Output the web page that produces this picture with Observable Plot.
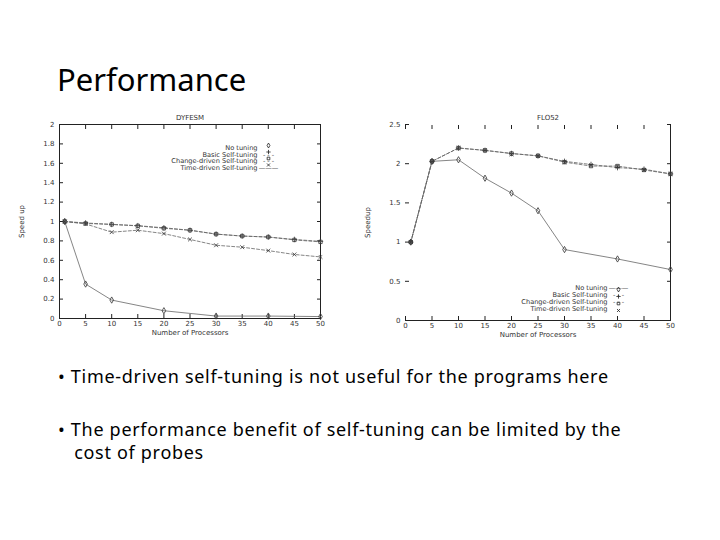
<!DOCTYPE html>
<html>
<head>
<meta charset="utf-8">
<script src="https://cdn.jsdelivr.net/npm/d3@7"></script>
<script src="https://cdn.jsdelivr.net/npm/@observablehq/plot@0.6"></script>
<style>
  html, body { margin: 0; padding: 0; background: #fff; }
  #page { position: relative; width: 720px; height: 540px; overflow: hidden; background: #fff; font-family: "Noto Sans", sans-serif; }
  #title { position: absolute; left: 57px; top: 59px; font-size: 31px; color: #000; line-height: 40px; }
  .chart { position: absolute; top: 105px; }
  .bullet { position: absolute; left: 58px; font-size: 18px; letter-spacing: 0.7px; line-height: 18px; height: 18px; color: #000; white-space: pre; }
</style>
</head>
<body>
<div id="page">
  <div id="title">Performance</div>
  <div id="left" class="chart" style="left:0px"></div>
  <div id="right" class="chart" style="left:350px"></div>
  <div class="bullet" style="top:367px">• Time-driven self-tuning is not useful for the programs here</div>
  <div class="bullet" style="top:420px">• The performance benefit of self-tuning can be limited by the</div>
  <div class="bullet" style="top:443px">   cost of probes</div>
</div>
<script>
// ---- data ----
const seriesNames = ["No tuning", "Basic Self-tuning", "Change-driven Self-tuning", "Time-driven Self-tuning"];
const procs = [1, 5, 10, 15, 20, 25, 30, 35, 40, 45, 50];

// DYFESM
const dyfesmNoProcs = [1, 5, 10, 20, 30, 40, 50];
const dyfesmNo     = [1.0, 0.355, 0.19, 0.08, 0.025, 0.025, 0.02];
const dyfesmBasic  = [1.0, 0.985, 0.97, 0.957, 0.935, 0.91, 0.87, 0.85, 0.84, 0.815, 0.795];
const dyfesmChange = [1.0, 0.98, 0.97, 0.955, 0.93, 0.91, 0.87, 0.85, 0.84, 0.81, 0.79];
const dyfesmTime   = [1.0, 0.975, 0.89, 0.91, 0.875, 0.815, 0.755, 0.735, 0.70, 0.66, 0.635];

// FLO52
const flo52NoProcs = [1, 5, 10, 15, 20, 25, 30, 40, 50];
const flo52No      = [1.0, 2.03, 2.05, 1.815, 1.625, 1.40, 0.905, 0.785, 0.65];
const flo52Basic   = [1.0, 2.03, 2.2, 2.17, 2.13, 2.1, 2.03, 1.99, 1.95, 1.93, 1.87];
const flo52Change  = [1.0, 2.03, 2.2, 2.17, 2.13, 2.1, 2.02, 1.97, 1.97, 1.92, 1.87];
const flo52Time    = [1.0, 2.03, 2.2, 2.17, 2.12, 2.1, 2.02, 1.98, 1.96, 1.92, 1.87];

const xTicks = [0, 5, 10, 15, 20, 25, 30, 35, 40, 45, 50];
const dyfesmYTicks = [0, 0.2, 0.4, 0.6, 0.8, 1, 1.2, 1.4, 1.6, 1.8, 2];
const flo52YTicks = [0, 0.5, 1, 1.5, 2, 2.5];

// ---- styling ----
const symbols = ["diamond", "plus", "square", "times"];
const dashes = [null, "3,2", "3,2", "3,2"];
const lineColor = "#666";
const FONT = "DejaVu Sans, sans-serif";
const fmt = d => `${d}`;

function rows(xs, ys) { return xs.map((x, i) => ({x, y: ys[i]})); }

function seriesMarks(data, i, withLine) {
  const marks = [];
  if (withLine) marks.push(Plot.line(data, {x: "x", y: "y", stroke: lineColor, strokeWidth: 0.8, strokeDasharray: dashes[i]}));
  marks.push(Plot.dot(data, {x: "x", y: "y", symbol: () => symbols[i], r: 1.9, stroke: "#333", strokeWidth: 0.8, fill: "none"}));
  return marks;
}

function legendMarks(anchor, rowsDy, lineStyles) {
  const m = [];
  seriesNames.forEach((name, i) => {
    m.push(Plot.text([name], {frameAnchor: anchor, text: d => d, textAnchor: "end", dx: -63, dy: rowsDy[i], fontSize: 6.6, fill: "#333", fontFamily: FONT}));
    if (lineStyles[i]) m.push(Plot.text([lineStyles[i]], {frameAnchor: anchor, text: d => d, textAnchor: "middle", dx: -52, dy: rowsDy[i], fontSize: 6.5, fill: "#444", fontFamily: FONT}));
    m.push(Plot.dot([name], {frameAnchor: anchor, dx: -52, dy: rowsDy[i], symbol: () => symbols[i], r: 1.5, stroke: "#222", strokeWidth: 0.8, fill: "none"}));
  });
  return m;
}

function axes(yTicks, ylabel) {
  const common = {fontSize: 7, fontFamily: FONT};
  return [
    Plot.axisX({ticks: xTicks, tickSize: -4, tickPadding: 7, tickFormat: fmt, label: "Number of Processors", labelAnchor: "center", labelOffset: 16, labelArrow: "none", ...common, fill: "#333", stroke: "#222"}),
    Plot.axisX({anchor: "top", ticks: xTicks, tickSize: -4, tickFormat: () => "", label: null, stroke: "#222"}),
    Plot.axisY({ticks: yTicks, tickSize: -4, tickPadding: 9, tickFormat: fmt, label: ylabel, labelAnchor: "center", labelOffset: 40, labelArrow: "none", ...common, fill: "#333", stroke: "#222"}),
    Plot.axisY({anchor: "right", ticks: yTicks, tickSize: -4, tickFormat: () => "", label: null, stroke: "#222"})
  ];
}

// DYFESM chart
const left = Plot.plot({
  width: 340, height: 245,
  marginLeft: 59, marginRight: 20, marginTop: 19, marginBottom: 32,
  style: {fontFamily: FONT, background: "transparent", color: "#222"},
  x: {domain: [0, 50]},
  y: {domain: [0, 2]},
  marks: [
    Plot.frame({stroke: "#222", strokeWidth: 1}),
    ...axes(dyfesmYTicks, "Speed up"),
    ...seriesMarks(rows(dyfesmNoProcs, dyfesmNo), 0, true),
    ...seriesMarks(rows(procs, dyfesmBasic), 1, true),
    ...seriesMarks(rows(procs, dyfesmChange), 2, true),
    ...seriesMarks(rows(procs, dyfesmTime), 3, true),
    Plot.text(["DYFESM"], {frameAnchor: "top", text: d => d, dy: -9, fontSize: 7, fill: "#333", fontFamily: FONT}),
    ...legendMarks("top-right", [21, 27.5, 34, 40.5], [null, "- - -", "- - -", "———"])
  ]
});
document.getElementById("left").appendChild(left);

// FLO52 chart
const right = Plot.plot({
  width: 340, height: 245,
  marginLeft: 55, marginRight: 20, marginTop: 19, marginBottom: 30,
  style: {fontFamily: FONT, background: "transparent", color: "#222"},
  x: {domain: [0, 50]},
  y: {domain: [0, 2.5]},
  marks: [
    Plot.ruleY([0], {stroke: "#222", strokeWidth: 1}),
    Plot.ruleX([50], {stroke: "#222", strokeWidth: 1}),
    ...axes(flo52YTicks, "Speedup"),
    ...seriesMarks(rows(flo52NoProcs, flo52No), 0, true),
    ...seriesMarks(rows(procs, flo52Basic), 1, true),
    ...seriesMarks(rows(procs, flo52Change), 2, true),
    ...seriesMarks(rows(procs, flo52Time), 3, false),
    Plot.text(["FLO52"], {frameAnchor: "top", text: d => d, dx: 10, dy: -9, fontSize: 7, fill: "#333", fontFamily: FONT}),
    ...legendMarks("bottom-right", [-31, -24, -17, -10], ["———", "- - -", "- - -", null])
  ]
});
document.getElementById("right").appendChild(right);
</script>
</body>
</html>
